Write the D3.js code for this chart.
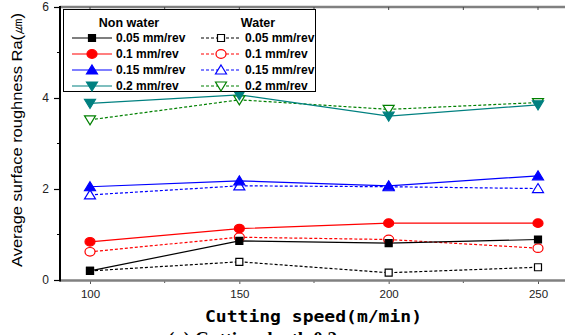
<!DOCTYPE html>
<html>
<head>
<meta charset="utf-8">
<script src="https://cdn.jsdelivr.net/npm/d3@7"></script>
<style>
  html, body { margin: 0; padding: 0; background: #fff; }
  svg { display: block; }
</style>
</head>
<body>
<svg id="chart" width="565" height="335"></svg>
<script>
// Cutting speed (m/min) on the x axis
const speeds = [100, 150, 200, 250];
const xTicks = [100, 150, 200, 250];
const xMinorTicks = [125, 175, 225];
const yTicks = [0, 2, 4, 6];
const yMinorTicks = [1, 3, 5];

// Average surface roughness Ra (µm), dry cutting
const dry005 = [0.20, 0.86, 0.81, 0.89];
const dry010 = [0.84, 1.13, 1.25, 1.25];
const dry015 = [2.05, 2.18, 2.07, 2.29];
const dry020 = [3.88, 4.07, 3.60, 3.85];

// Average surface roughness Ra (µm), with water
const wet005 = [0.20, 0.40, 0.16, 0.28];
const wet010 = [0.62, 0.94, 0.89, 0.70];
const wet015 = [1.87, 2.07, 2.05, 2.01];
const wet020 = [3.52, 3.96, 3.75, 3.90];

const feedLabels = ["0.05 mm/rev", "0.1 mm/rev", "0.15 mm/rev", "0.2 mm/rev"];

const series = [
  { name: feedLabels[0], values: dry005, color: "#000000", shape: "square",  filled: true,  dashed: false },
  { name: feedLabels[1], values: dry010, color: "#ff0000", shape: "circle",  filled: true,  dashed: false },
  { name: feedLabels[2], values: dry015, color: "#0000ff", shape: "up",      filled: true,  dashed: false },
  { name: feedLabels[3], values: dry020, color: "#008080", shape: "down",    filled: true,  dashed: false },
  { name: feedLabels[0], values: wet005, color: "#000000", shape: "square",  filled: false, dashed: true },
  { name: feedLabels[1], values: wet010, color: "#ff0000", shape: "circle",  filled: false, dashed: true },
  { name: feedLabels[2], values: wet015, color: "#0000ff", shape: "up",      filled: false, dashed: true },
  { name: feedLabels[3], values: wet020, color: "#008000", shape: "down",    filled: false, dashed: true }
];

const svg = d3.select("#chart");
const plotLeft = 60, plotTop = 7, plotBottom = 280, plotRight = 565;

const x = d3.scaleLinear().domain([100, 250]).range([90, 538]);
const y = d3.scaleLinear().domain([0, 6]).range([plotBottom, plotTop]);

// marker shapes
function markerPath(shape) {
  if (shape === "square") return "M-3.5,-3.5H3.5V3.5H-3.5Z";
  if (shape === "up") return "M0,-5L5.5,4L-5.5,4Z";
  if (shape === "down") return "M0,5L5.5,-4L-5.5,-4Z";
  return null;
}
function drawMarker(g, s, cx, cy) {
  if (s.shape === "circle") {
    g.append("ellipse").attr("cx", cx).attr("cy", cy).attr("rx", 5).attr("ry", 4.3)
      .attr("fill", s.filled ? s.color : "#fff").attr("stroke", s.color).attr("stroke-width", 1.2);
  } else {
    g.append("path").attr("d", markerPath(s.shape))
      .attr("transform", `translate(${cx},${cy})`)
      .attr("fill", s.filled ? s.color : "#fff").attr("stroke", s.color).attr("stroke-width", 1.2);
  }
}

// frame: top and bottom in gray, left in black
svg.append("line").attr("x1", plotLeft).attr("x2", plotRight).attr("y1", plotTop).attr("y2", plotTop)
  .attr("stroke", "#808080").attr("stroke-width", 2.5);

// bottom axis
const xAxis = svg.append("g").attr("transform", `translate(0,${plotBottom})`)
  .call(d3.axisBottom(x).tickValues(xTicks).tickSize(4).tickFormat(d3.format("d")));
xAxis.select(".domain").remove();
xAxis.selectAll(".tick line").attr("stroke", "#555").attr("stroke-width", 1);
xAxis.selectAll(".tick text").attr("font-family", "Arial, 'Liberation Sans', sans-serif")
  .attr("font-size", 11.5).attr("fill", "#222").attr("dy", "0.95em");
svg.append("g").attr("transform", `translate(0,${plotBottom})`)
  .selectAll("line").data(xMinorTicks).join("line")
  .attr("x1", d => x(d)).attr("x2", d => x(d)).attr("y1", 0).attr("y2", 3)
  .attr("stroke", "#555");
svg.append("line").attr("x1", plotLeft).attr("x2", plotRight).attr("y1", plotBottom + 0.5).attr("y2", plotBottom + 0.5)
  .attr("stroke", "#808080").attr("stroke-width", 2.5);

// top ticks, pointing inward
svg.append("g").selectAll("line").data(xTicks.concat(xMinorTicks)).join("line")
  .attr("x1", d => x(d)).attr("x2", d => x(d)).attr("y1", plotTop).attr("y2", plotTop + 3)
  .attr("stroke", "#444");

// left axis
const yAxis = svg.append("g").attr("transform", `translate(${plotLeft},0)`)
  .call(d3.axisLeft(y).tickValues(yTicks).tickSize(6).tickFormat(d3.format("d")));
yAxis.select(".domain").remove();
yAxis.selectAll(".tick line").attr("stroke", "#000").attr("stroke-width", 1.2);
yAxis.selectAll(".tick text").attr("font-family", "Arial, 'Liberation Sans', sans-serif")
  .attr("font-size", 12).attr("fill", "#222").attr("x", -11);
svg.append("g").selectAll("line").data(yMinorTicks).join("line")
  .attr("x1", plotLeft - 3).attr("x2", plotLeft).attr("y1", d => y(d)).attr("y2", d => y(d))
  .attr("stroke", "#000");
svg.append("line").attr("x1", plotLeft).attr("x2", plotLeft).attr("y1", plotTop - 1).attr("y2", plotBottom + 1.5)
  .attr("stroke", "#000").attr("stroke-width", 2);

// series lines and markers
const line = d3.line().x((d, i) => x(speeds[i])).y(d => y(d));
const plot = svg.append("g");
// water series drawn first so dry lines sit on top
const order = [4, 5, 6, 7, 0, 1, 2, 3];
order.forEach(i => {
  const s = series[i];
  plot.append("path").datum(s.values).attr("d", line)
    .attr("fill", "none").attr("stroke", s.color).attr("stroke-width", 1.2)
    .attr("stroke-dasharray", s.dashed ? "3,2" : null);
});
order.forEach(i => {
  const s = series[i];
  s.values.forEach((v, j) => drawMarker(plot, s, x(speeds[j]), y(v)));
});

// legend
const lg = svg.append("g");
lg.append("rect").attr("x", 63.5).attr("y", 9.5).attr("width", 252).attr("height", 82)
  .attr("fill", "#fff").attr("stroke", "#000").attr("stroke-width", 1);
const lfont = "Arial, 'Liberation Sans', sans-serif";
lg.append("text").attr("x", 129).attr("y", 27).attr("text-anchor", "middle")
  .attr("font-family", lfont).attr("font-weight", "bold").attr("font-size", 12.5).text("Non water");
lg.append("text").attr("x", 258).attr("y", 27).attr("text-anchor", "middle")
  .attr("font-family", lfont).attr("font-weight", "bold").attr("font-size", 12.5).text("Water");
const rowsY = [38, 54, 70, 86];
series.forEach((s, i) => {
  const row = i % 4;
  const col = i < 4 ? 0 : 1;
  const x0 = col === 0 ? 72 : 201;
  const cy = rowsY[row];
  lg.append("line").attr("x1", x0).attr("x2", x0 + 40).attr("y1", cy).attr("y2", cy)
    .attr("stroke", s.color).attr("stroke-width", 1.2).attr("stroke-dasharray", s.dashed ? "3,2" : null);
  drawMarker(lg, s, x0 + 20, cy);
  lg.append("text").attr("x", x0 + 44).attr("y", cy + 4)
    .attr("font-family", lfont).attr("font-weight", "bold").attr("font-size", 12)
    .text(s.name);
});

// axis titles
svg.append("text").attr("transform", "translate(22,140) rotate(-90)")
  .attr("text-anchor", "middle").attr("font-family", "Arial, 'Liberation Sans', sans-serif")
  .attr("font-size", 15).attr("textLength", 254).attr("lengthAdjust", "spacingAndGlyphs")
  .text("Average surface roughness Ra(㎛)");
svg.append("text").attr("x", 205).attr("y", 322)
  .attr("font-family", "'DejaVu Sans Mono', monospace").attr("font-weight", "bold")
  .attr("font-size", 15).attr("textLength", 217).attr("lengthAdjust", "spacingAndGlyphs")
  .text("Cutting speed(m/min)");

// figure caption, running off the bottom edge of the page
svg.append("text").attr("x", 168).attr("y", 345)
  .attr("font-family", "'Liberation Serif', 'Times New Roman', serif").attr("font-weight", "bold")
  .attr("font-size", 19).text("(a) Cutting depth 0.2 mm");
</script>
</body>
</html>
